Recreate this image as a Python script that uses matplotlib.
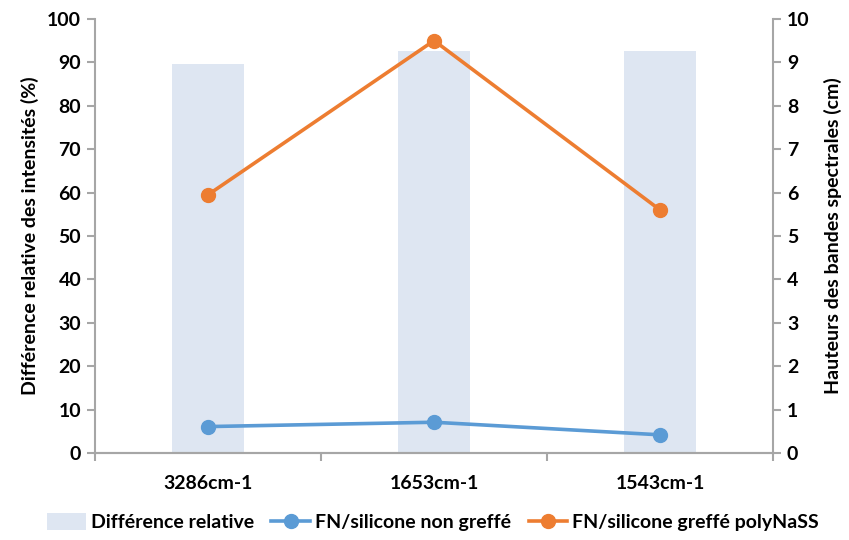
import matplotlib
matplotlib.use("Agg")
import matplotlib.pyplot as plt
from matplotlib.patches import Patch
from matplotlib.lines import Line2D

categories = ["3286cm-1", "1653cm-1", "1543cm-1"]
diff_relative = [89.7, 92.5, 92.5]
non_greffe = [0.61, 0.71, 0.42]
greffe_polynass = [5.95, 9.5, 5.6]
left_ticks = list(range(0, 101, 10))
right_ticks = list(range(0, 11, 1))

plt.rcParams['font.family'] = ['Lato', 'DejaVu Sans']
plt.rcParams['font.weight'] = 'bold'

bar_c = "#dee6f2"
blue = "#5b9bd5"
orange = "#ed7d31"
grey = "#a6a6a6"

fs = 14

fig = plt.figure(figsize=(8.49, 5.40), dpi=100)
ax = fig.add_axes([0.112, 0.161, 0.7985, 0.804])
ax2 = ax.twinx()

x = list(range(len(categories)))
ax.bar(x, diff_relative, width=0.32, color=bar_c, zorder=1)
ax.set_xlim(-0.5, 2.5)
ax.set_ylim(0, 100)
ax.set_yticks(left_ticks)
ax2.set_ylim(0, 10)
ax2.set_yticks(right_ticks)

ax2.plot(x, non_greffe, color=blue, lw=2.6, marker='o', ms=10, zorder=3)
ax2.plot(x, greffe_polynass, color=orange, lw=2.6, marker='o', ms=10, zorder=3)

for a in (ax, ax2):
    a.spines['top'].set_visible(False)
    for s in ('left', 'right', 'bottom'):
        a.spines[s].set_color(grey)
        a.spines[s].set_linewidth(1.5)
ax.spines['right'].set_visible(False)
ax2.spines['left'].set_visible(False)

ax.set_xticks([-0.5, 0.5, 1.5, 2.5])
ax.set_xticklabels([])
ax.set_xticks(x, minor=True)
ax.set_xticklabels(categories, minor=True, fontsize=fs, fontweight='bold')
ax.tick_params(axis='x', which='major', length=6, width=1.5, color=grey, direction='out')
ax.tick_params(axis='x', which='minor', length=0, pad=16)
ax.tick_params(axis='y', length=6, width=1.5, color=grey, labelsize=fs, pad=4)
ax2.tick_params(axis='y', length=6, width=1.5, color=grey, labelsize=fs, pad=4)
for lab in ax.get_yticklabels() + ax2.get_yticklabels():
    lab.set_fontweight('bold')

ax.set_ylabel("Différence relative des intensités (%)", fontsize=fs, fontweight='bold', labelpad=6)
ax2.set_ylabel("Hauteurs des bandes spectrales (cm)", fontsize=fs, fontweight='bold', labelpad=10)

handles = [
    Patch(facecolor=bar_c, edgecolor='none'),
    Line2D([], [], color=blue, lw=2.6, marker='o', ms=10),
    Line2D([], [], color=orange, lw=2.6, marker='o', ms=10),
]
labels = ["Différence relative", "FN/silicone non greffé", "FN/silicone greffé polyNaSS"]
fig.legend(handles, labels, loc='center', bbox_to_anchor=(0.51, 0.033), ncol=3,
           frameon=False, handlelength=2.0, handleheight=1.0, handletextpad=0.25,
           columnspacing=0.9, prop={'weight': 'bold', 'size': fs})

fig.savefig("out.png", dpi=100)
